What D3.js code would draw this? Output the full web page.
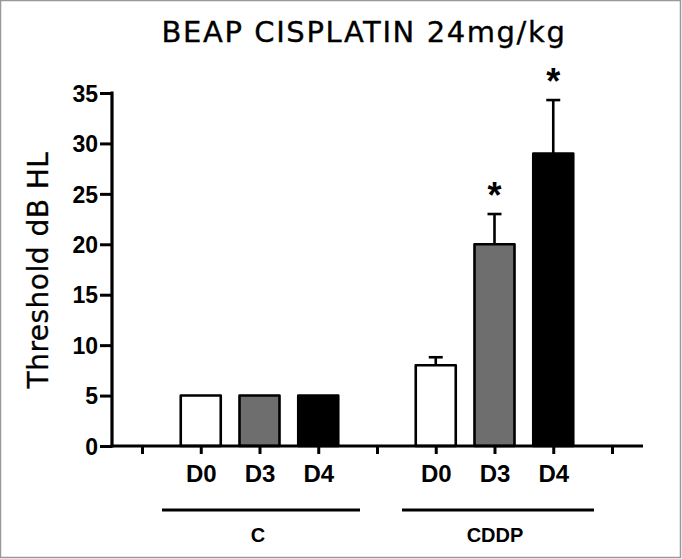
<!DOCTYPE html>
<html><head><meta charset="utf-8">
<script src="https://cdn.jsdelivr.net/npm/d3@7"></script>
<style>body{margin:0;background:#fff}svg{display:block}</style>
</head><body>
<script>
const title = "BEAP CISPLATIN 24mg/kg";
const yLabel = "Threshold dB HL";
const groups = ["C", "CDDP"];
const days = ["D0", "D3", "D4"];
const meanC = [5, 5, 5];
const meanCDDP = [8, 20, 29];
const errC = [0, 0, 0];
const errCDDP = [0.8, 3.0, 5.3];
const sigC = [false, false, false];
const sigCDDP = [false, true, true];
const fills = ["#ffffff", "#6e6e6e", "#000000"];
const yTicks = [0, 5, 10, 15, 20, 25, 30, 35];

const W = 682, H = 559;
const svg = d3.select("body").append("svg").attr("width", W).attr("height", H);
svg.append("rect").attr("x", 0.5).attr("y", 0.5).attr("width", W - 2).attr("height", H - 2)
  .attr("fill", "#fff").attr("stroke", "#999").attr("stroke-width", 1.5);

const slots = ["s0", "C-D0", "C-D3", "C-D4", "s1", "CDDP-D0", "CDDP-D3", "CDDP-D4", "s2"];
const x = d3.scalePoint().domain(slots).range([142, 612]);
const y = d3.scaleLinear().domain([0, 35]).range([446, 93]);

const data = [];
days.forEach((d, i) => data.push({g: "C", d, v: meanC[i], e: errC[i], s: sigC[i], f: fills[i]}));
days.forEach((d, i) => data.push({g: "CDDP", d, v: meanCDDP[i], e: errCDDP[i], s: sigCDDP[i], f: fills[i]}));

// title
svg.append("text").attr("x", 364).attr("y", 42).attr("text-anchor", "middle")
  .attr("font-family", "DejaVu Sans").attr("font-size", 29).attr("letter-spacing", 1.6)
  .attr("fill", "#000").attr("stroke", "#000").attr("stroke-width", 0.35).text(title);

// y label
svg.append("text").attr("transform", "translate(48,270) rotate(-90)").attr("text-anchor", "middle")
  .attr("font-family", "DejaVu Sans").attr("font-size", 28).attr("letter-spacing", 0.5)
  .attr("fill", "#000").attr("stroke", "#000").attr("stroke-width", 0.3).text(yLabel);

// bars
const bw = 40;
svg.selectAll("rect.bar").data(data).enter().append("rect").attr("class", "bar")
  .attr("x", d => x(d.g + "-" + d.d) - bw / 2).attr("width", bw)
  .attr("y", d => y(d.v)).attr("height", d => y(0) - y(d.v))
  .attr("fill", d => d.f).attr("stroke", "#000").attr("stroke-width", 2.6)
  .attr("stroke-linejoin", "round");

// error bars
const eb = data.filter(d => d.e > 0);
svg.selectAll("line.err").data(eb).enter().append("line")
  .attr("x1", d => x(d.g + "-" + d.d)).attr("x2", d => x(d.g + "-" + d.d))
  .attr("y1", d => y(d.v)).attr("y2", d => y(d.v + d.e))
  .attr("stroke", "#000").attr("stroke-width", 2.6);
svg.selectAll("line.cap").data(eb).enter().append("line")
  .attr("x1", d => x(d.g + "-" + d.d) - 7).attr("x2", d => x(d.g + "-" + d.d) + 7)
  .attr("y1", d => y(d.v + d.e)).attr("y2", d => y(d.v + d.e))
  .attr("stroke", "#000").attr("stroke-width", 2.6);

// asterisks
svg.selectAll("text.sig").data(data.filter(d => d.s)).enter().append("text")
  .attr("x", d => x(d.g + "-" + d.d)).attr("y", d => y(d.v + d.e) - 6)
  .attr("text-anchor", "middle").attr("font-family", "Liberation Sans").attr("font-weight", "bold")
  .attr("font-size", 36).attr("fill", "#000").text("*");

// y axis
const yAxis = svg.append("g").attr("transform", "translate(112,0)")
  .call(d3.axisLeft(y).tickValues(yTicks).tickSize(12).tickPadding(2));
yAxis.select(".domain").attr("stroke-width", 3.2).attr("d", "M0,91.5V447.5");
yAxis.selectAll(".tick line").attr("stroke-width", 3);
yAxis.selectAll(".tick text").attr("font-family", "Liberation Sans").attr("font-weight", "bold")
  .attr("font-size", 23).attr("fill", "#000").attr("dy", "0.36em");

// x axis
const xAxis = svg.append("g").attr("transform", "translate(0,446)")
  .call(d3.axisBottom(x).tickSize(8).tickFormat(s => s.includes("-") ? s.split("-")[1] : ""));
xAxis.select(".domain").attr("stroke-width", 3.2).attr("d", "M110.5,0H643");
xAxis.selectAll(".tick line").attr("stroke-width", 3);
xAxis.selectAll(".tick text").attr("font-family", "Liberation Sans").attr("font-weight", "bold")
  .attr("font-size", 24).attr("fill", "#000").attr("y", 36).attr("dy", 0);

// group lines and labels
const groupSpan = {C: [162, 360], CDDP: [402, 594]};
groups.forEach(g => {
  const [a, b] = groupSpan[g];
  svg.append("line").attr("x1", a).attr("x2", b).attr("y1", 510).attr("y2", 510)
    .attr("stroke", "#000").attr("stroke-width", 3);
  svg.append("text").attr("x", (a + b) / 2 - 3).attr("y", 542).attr("text-anchor", "middle")
    .attr("font-family", "Liberation Sans").attr("font-weight", "bold").attr("font-size", 20)
    .attr("fill", "#000").text(g);
});
</script>
</body></html>
